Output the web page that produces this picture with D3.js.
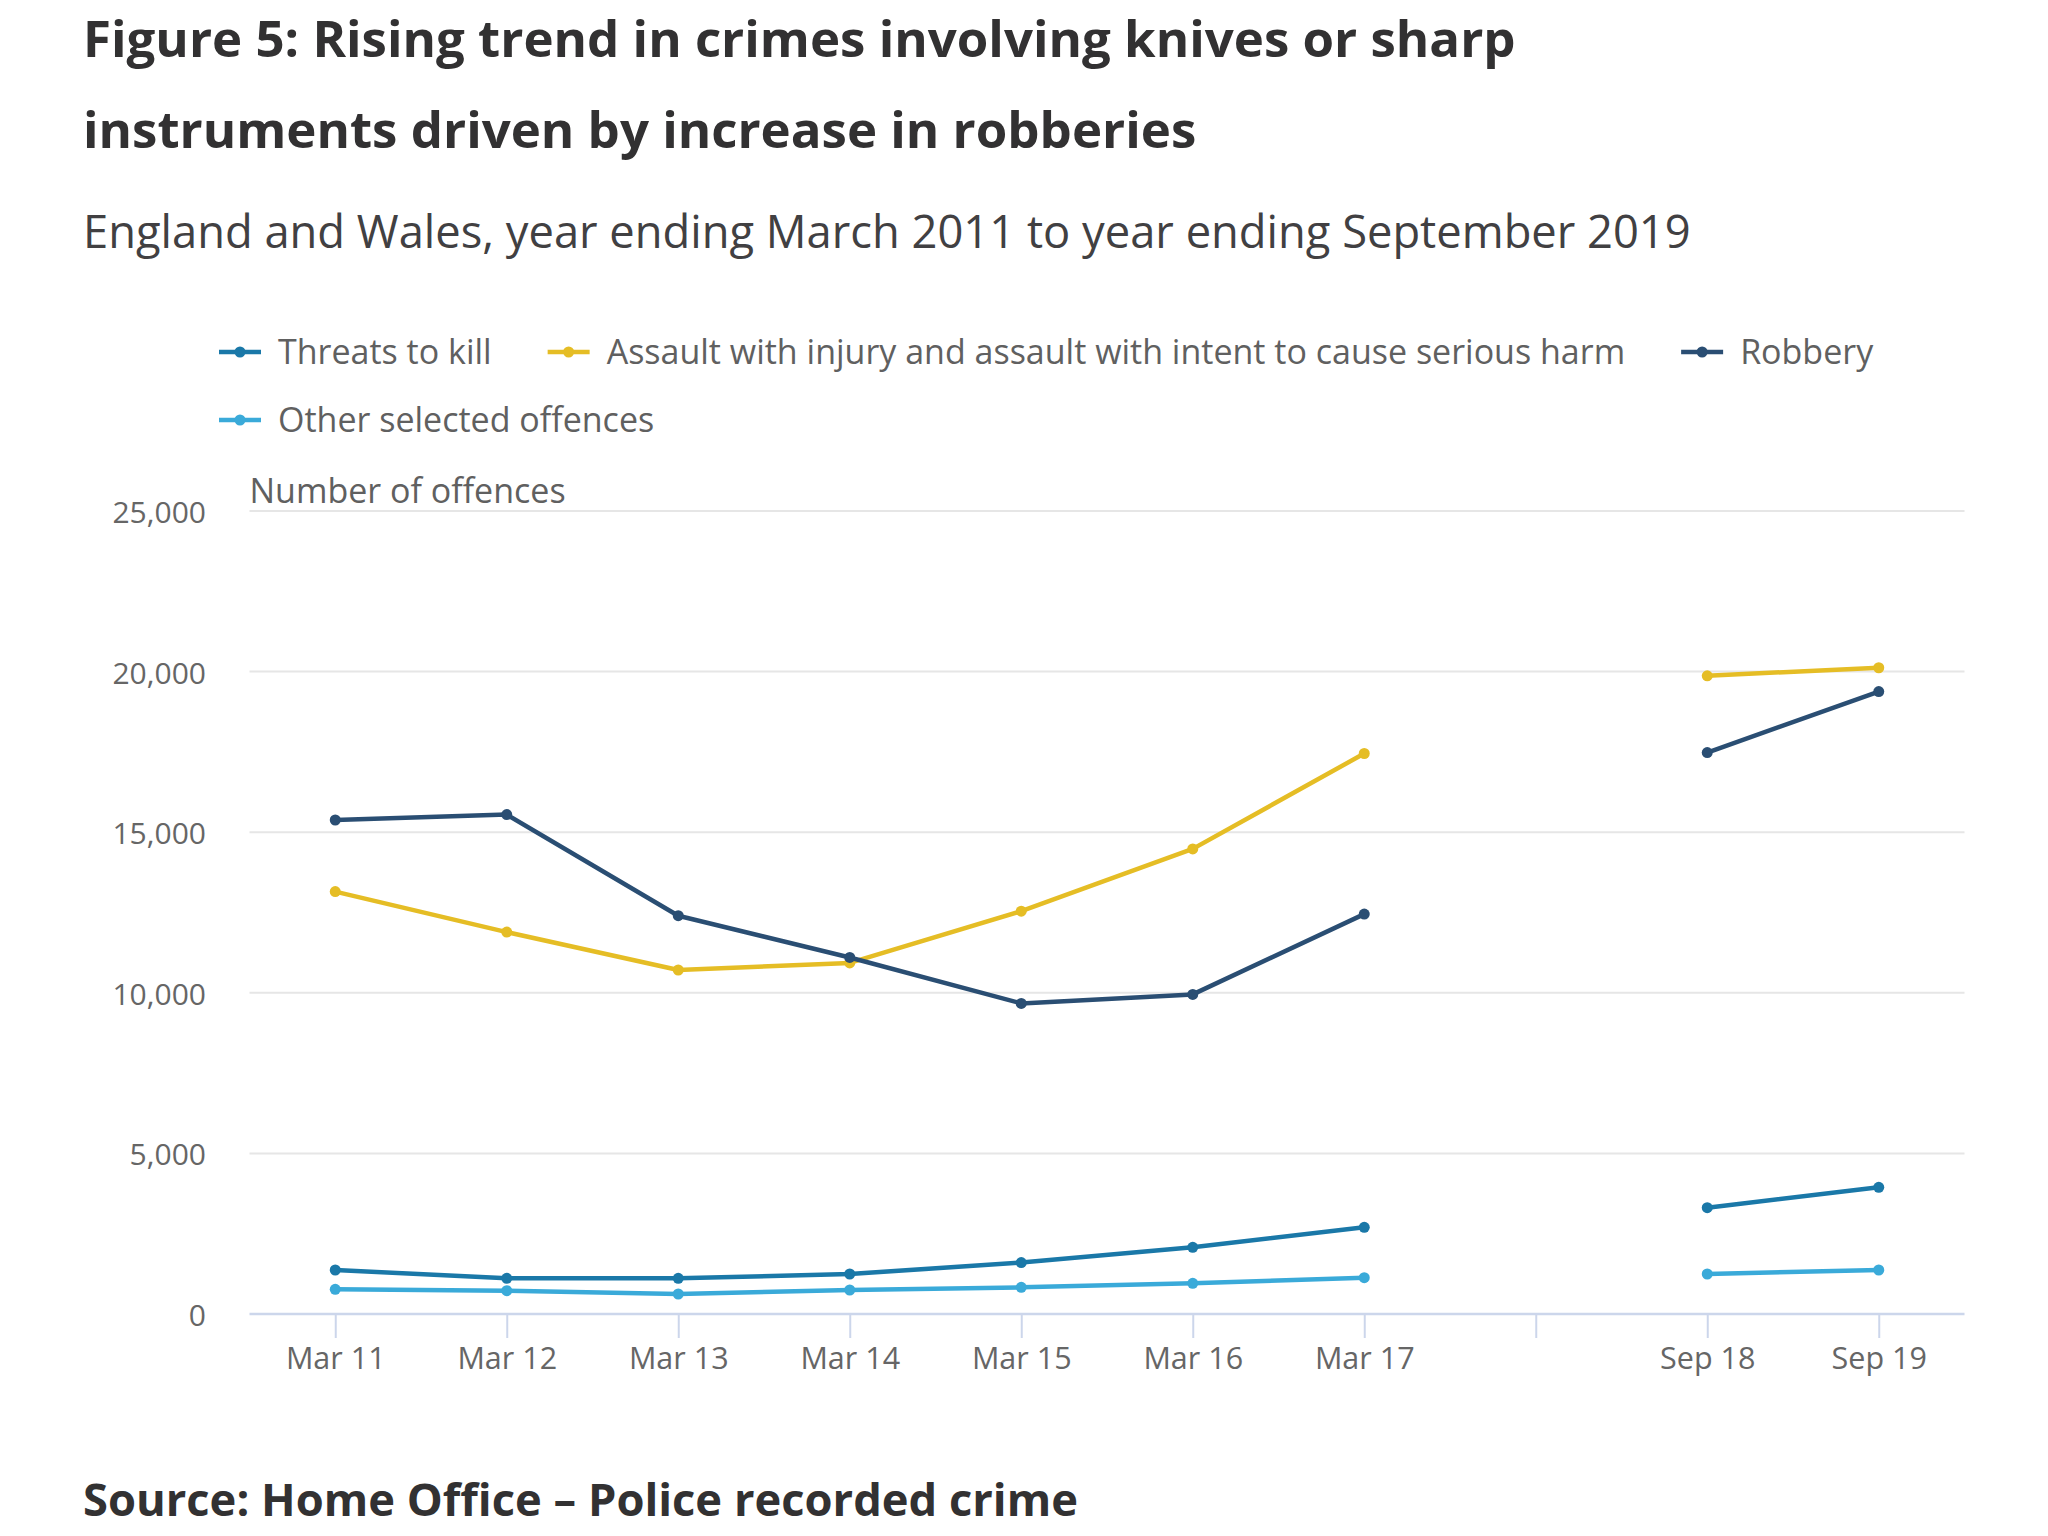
<!DOCTYPE html>
<html>
<head>
<meta charset="utf-8">
<script src="https://cdn.jsdelivr.net/npm/d3@7"></script>
<style>
  html, body { margin: 0; padding: 0; background: #fff; }
  svg { display: block; }
  text { font-family: "Open Sans", "Noto Sans", sans-serif; }
</style>
</head>
<body>
<svg id="chart" width="2048" height="1536"></svg>
<script>
// ---- Data ----
const categories = ["Mar 11", "Mar 12", "Mar 13", "Mar 14", "Mar 15", "Mar 16", "Mar 17", "", "Sep 18", "Sep 19"];
const threatsToKill = [1370, 1110, 1110, 1245, 1600, 2075, 2700, null, 3310, 3945];
const assaultWithInjury = [13150, 11890, 10710, 10930, 12540, 14480, 17450, null, 19870, 20120];
const robbery = [15380, 15550, 12400, 11100, 9670, 9950, 12450, null, 17480, 19380];
const otherOffences = [768, 726, 623, 747, 830, 955, 1130, null, 1245, 1370];
const yTicks = [0, 5000, 10000, 15000, 20000, 25000];
const seriesNames = ["Threats to kill", "Assault with injury and assault with intent to cause serious harm", "Robbery", "Other selected offences"];
const seriesColors = ["#1a78a8", "#e5bd25", "#2a4e73", "#3aaad9"];

const titleLines = ["Figure 5: Rising trend in crimes involving knives or sharp", "instruments driven by increase in robberies"];
const subtitle = "England and Wales, year ending March 2011 to year ending September 2019";
const yAxisTitle = "Number of offences";
const source = "Source: Home Office \u2013 Police recorded crime";

const seriesValues = [threatsToKill, assaultWithInjury, robbery, otherOffences];
const series = seriesNames.map((name, i) => ({ name, color: seriesColors[i], values: seriesValues[i] }));

// ---- Layout ----
const svg = d3.select("#chart");
const plotLeft = 249.5, plotRight = 1964.5, plotTop = 511, plotBottom = 1314;

const x = d3.scalePoint().domain(d3.range(categories.length)).range([plotLeft, plotRight]).padding(0.5);
const y = d3.scaleLinear().domain([0, 25000]).range([plotBottom, plotTop]);

// Titles
svg.append("g").selectAll("text").data(titleLines).join("text")
  .attr("x", 83).attr("y", (d, i) => 57 + i * 90.5)
  .attr("font-size", 51).attr("font-weight", 700).attr("fill", "#323132")
  .text(d => d);

svg.append("text").attr("x", 83).attr("y", 248)
  .attr("font-size", 45.3).attr("fill", "#414042").text(subtitle);

// Legend (flow layout)
const legend = svg.append("g");
let lx = 219, ly = 352;
const legendMaxX = 1964;
series.forEach(s => {
  const g = legend.append("g");
  g.append("line").attr("x1", 0).attr("x2", 42).attr("y1", 0).attr("y2", 0)
    .attr("stroke", s.color).attr("stroke-width", 4.5);
  g.append("circle").attr("cx", 21).attr("cy", 0).attr("r", 5.5).attr("fill", s.color);
  const t = g.append("text").attr("x", 59).attr("y", 0).attr("dy", "0.35em")
    .attr("font-size", 34).attr("fill", "#606060").text(s.name);
  const w = 59 + t.node().getComputedTextLength();
  if (lx + w > legendMaxX) { lx = 219; ly += 68; }
  g.attr("transform", `translate(${lx},${ly})`);
  lx += w + 56;
});

// Gridlines
svg.append("g").selectAll("line").data(yTicks.filter(d => d > 0)).join("line")
  .attr("x1", plotLeft).attr("x2", plotRight)
  .attr("y1", d => y(d)).attr("y2", d => y(d))
  .attr("stroke", "#e6e6e6").attr("stroke-width", 2);

// Y axis labels
const yAxis = d3.axisLeft(y).tickValues(yTicks).tickSize(0).tickPadding(0)
  .tickFormat(d3.format(","));
const yg = svg.append("g").attr("transform", `translate(206,0)`).call(yAxis);
yg.select(".domain").remove();
yg.selectAll("text").attr("font-size", 30).attr("fill", "#666666")
  .attr("font-family", "'Open Sans', sans-serif").attr("dy", "0.38em");

svg.append("text").attr("x", plotLeft).attr("y", 503)
  .attr("font-size", 34).attr("fill", "#606060").text(yAxisTitle);

// X axis
const xAxis = d3.axisBottom(x).tickSize(24).tickPadding(9).tickFormat(i => categories[i]);
const xg = svg.append("g").attr("transform", `translate(0,${plotBottom})`).call(xAxis);
xg.select(".domain").attr("d", `M${plotLeft},0H${plotRight}`).attr("stroke", "#ccd6eb").attr("stroke-width", 2.5);
xg.selectAll(".tick line").attr("stroke", "#ccd6eb").attr("stroke-width", 2);
xg.selectAll("text").attr("font-size", 30.5).attr("fill", "#666666")
  .attr("font-family", "'Open Sans', sans-serif");

// Lines
const line = d3.line().defined(d => d != null).x((d, i) => x(i)).y(d => y(d));
const sg = svg.append("g");
series.forEach(s => {
  sg.append("path").datum(s.values).attr("d", line)
    .attr("fill", "none").attr("stroke", s.color).attr("stroke-width", 4.5)
    .attr("stroke-linejoin", "round").attr("stroke-linecap", "round");
  sg.append("g").selectAll("circle")
    .data(s.values.map((v, i) => ({ v, i })).filter(d => d.v != null))
    .join("circle").attr("cx", d => x(d.i)).attr("cy", d => y(d.v)).attr("r", 5.5)
    .attr("fill", s.color);
});

// Source
svg.append("text").attr("x", 83).attr("y", 1516)
  .attr("font-size", 45.3).attr("font-weight", 700).attr("fill", "#323132").text(source);
</script>
</body>
</html>
